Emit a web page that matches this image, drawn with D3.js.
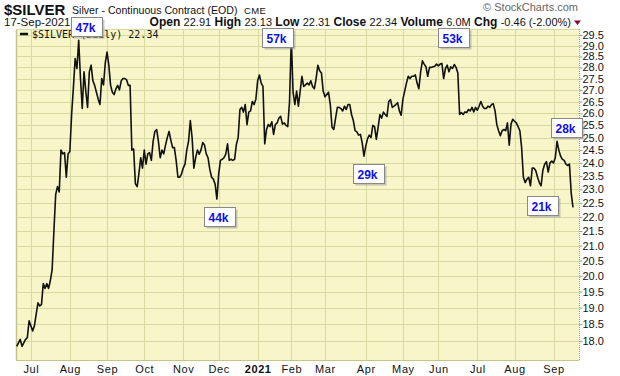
<!DOCTYPE html>
<html>
<head>
<meta charset="utf-8">
<script src="https://cdn.jsdelivr.net/npm/d3@7"></script>
<style>
  body { margin: 0; background: #fff; }
  svg text { font-family: "Liberation Sans", Arial, sans-serif; }
</style>
</head>
<body>
<div id="chart"></div>
<script>
// ---- data -------------------------------------------------------------
const firstDay = "2020-06-19";
const lastDay = "2021-09-17";
const holidays = ["2020-07-03", "2020-09-07", "2020-11-26", "2020-12-25", "2021-01-01",
    "2021-01-18", "2021-02-15", "2021-04-02", "2021-05-31", "2021-07-05", "2021-09-06"];

// daily closes (one per trading day)
const closes = [
    17.85, 17.95, 18.05, 17.85, 17.95, 18.05, 18.1, 18.6, 18.45, 18.3,
    18.45, 18.8, 19.15, 19.05, 19.1, 19.75, 19.6, 19.75, 19.6, 19.85,
    20.2, 21.5, 22.8, 23.1, 22.9, 24.5, 24.35, 24.4, 23.45, 24.35,
    24.45, 25.95, 27.1, 28.4, 27.95, 29.25, 27.5, 26.2, 27.8, 26.95,
    26.25, 27.8, 28.1, 27.4, 27.2, 26.9, 26.6, 26.37, 27.5, 27.22,
    28.2, 28.7, 28.1, 27.2, 26.9, 26.8, 27.05, 27.2, 27.0, 27.4,
    27.5, 27.5, 27.45, 27.2, 27.2, 24.5, 24.55, 23.2, 23.1, 23.6,
    24.2, 23.8, 24.5, 23.95, 24.35, 24.4, 24.1, 24.85, 25.25, 25.33,
    24.85, 24.2, 24.5, 24.35, 24.7, 25.0, 25.25, 24.9, 24.6, 24.6,
    24.1, 23.45, 23.45, 23.57, 23.8, 23.95, 24.5, 24.85, 25.7, 25.0,
    23.8, 24.2, 24.5, 24.34, 24.5, 24.8, 24.7, 24.35, 24.2, 23.75,
    23.45, 23.38, 23.19, 22.64, 23.57, 24.1, 24.14, 24.2, 24.34, 24.75,
    24.1, 24.14, 24.1, 24.14, 24.73, 25.0, 26.16, 26.25, 26.05, 26.37,
    25.53, 26.05, 26.1, 26.5, 26.37, 26.6, 27.4, 27.66, 27.3, 27.15,
    24.75, 25.33, 25.53, 25.45, 25.65, 25.13, 25.53, 25.6, 25.8, 25.87,
    25.55, 25.6, 25.5, 25.45, 26.5, 29.35, 26.9, 26.37, 26.95, 26.3,
    26.95, 27.6, 27.15, 27.22, 27.3, 27.22, 27.4, 27.15, 27.05, 27.5,
    28.1, 27.85, 27.75, 26.95, 26.7, 26.8, 26.9, 26.37, 25.42, 25.33,
    25.8, 26.25, 26.25, 26.2, 26.1, 26.3, 26.16, 26.37, 26.37, 25.95,
    25.7, 25.28, 25.23, 25.1, 25.13, 24.8, 24.26, 24.65, 24.95, 25.1,
    25.0, 25.5, 25.45, 24.93, 25.42, 25.95, 25.8, 26.05, 25.95, 25.87,
    26.5, 26.58, 26.25, 26.3, 26.37, 26.45, 26.1, 25.92, 26.6, 26.95,
    27.3, 27.6, 27.5, 27.6, 27.6, 27.66, 27.3, 27.05, 27.8, 28.3,
    28.15, 28.03, 27.6, 28.0, 28.0, 28.03, 28.05, 28.15, 28.07, 28.15,
    28.18, 27.5, 27.95, 28.1, 27.8, 28.03, 27.95, 28.13, 28.0, 27.75,
    25.95, 26.03, 25.95, 26.06, 26.03, 26.16, 26.1, 26.25, 26.06, 26.25,
    26.13, 26.3, 26.5, 26.3, 26.2, 26.2, 26.3, 26.25, 26.37, 26.4,
    26.1, 25.53, 25.28, 25.08, 25.28, 25.33, 25.28, 25.6, 24.7, 25.55,
    25.75, 25.67, 25.6, 25.45, 25.28, 24.6, 23.45, 23.25, 23.38, 23.45,
    23.13, 23.8, 23.8, 23.7, 23.45, 23.25, 23.13, 23.72, 23.95, 24.05,
    23.65, 24.0, 24.07, 24.0, 24.2, 24.85, 24.5, 24.26, 24.14, 24.1,
    23.95, 23.9, 23.95, 22.85, 22.34
];

const priceTicks = [18.0, 18.5, 19.0, 19.5, 20.0, 20.5, 21.0, 21.5, 22.0, 22.5, 23.0, 23.5,
    24.0, 24.5, 25.0, 25.5, 26.0, 26.5, 27.0, 27.5, 28.0, 28.5, 29.0, 29.5];
const monthNames = ["Jan", "Feb", "Mar", "Apr", "May", "Jun", "Jul", "Aug", "Sep", "Oct", "Nov", "Dec"];

// open interest notes pinned to a date
const noteDates = ["2020-08-10", "2021-02-01", "2021-06-03", "2020-11-30", "2021-03-31", "2021-09-03", "2021-08-13"];
const noteLabels = ["47k", "57k", "53k", "44k", "29k", "28k", "21k"];

const quote = [["Open", "22.91"], ["High", "23.13"], ["Low", "22.31"], ["Close", "22.34"], ["Volume", "6.0M"], ["Chg", "-0.46 (-2.00%)"]];

// ---- layout -----------------------------------------------------------
const W = 620, H = 376;
const plot = {left: 16, right: 579, top: 29, bottom: 360};
// where each note box sits relative to its point
const noteOffsets = [[-8, -23], [-29, -10], [-4, -35], [-13, 8], [-11, 8], [-6, -23], [-3, 10]];

// trading calendar
const fmt = d3.timeFormat("%Y-%m-%d");
const parse = d3.timeParse("%Y-%m-%d");
let days = d3.timeDay.range(parse(firstDay), d3.timeDay.offset(parse(lastDay), 1))
    .filter(d => d.getDay() !== 0 && d.getDay() !== 6 && !holidays.includes(fmt(d)));
days = days.slice(0, closes.length);

const data = closes.map((v, i) => ({i: i, date: days[i], v: v}));

const svg = d3.select("#chart").append("svg")
    .attr("width", W)
    .attr("height", H);

svg.append("rect").attr("width", W).attr("height", H).attr("fill", "#fff");

const x = d3.scaleLinear()
    .domain([0, closes.length - 1])
    .range([16.7, 573]);

const y = d3.scaleLog()
    .domain([17.46, 29.79])
    .range([plot.bottom, plot.top]);

// plot background
svg.append("rect")
    .attr("x", plot.left).attr("y", plot.top)
    .attr("width", plot.right - plot.left)
    .attr("height", plot.bottom - plot.top)
    .attr("fill", "#f8f6c8");

// month starts
const monthStarts = data.filter((d, k) => k > 0 && d.date.getMonth() !== data[k - 1].date.getMonth());

// grid
svg.append("g").selectAll("line.h")
    .data(priceTicks)
    .enter().append("line")
    .attr("x1", plot.left).attr("x2", plot.right)
    .attr("y1", d => Math.round(y(d)) + 0.5).attr("y2", d => Math.round(y(d)) + 0.5)
    .attr("stroke", "#d6d9a2");

svg.append("g").selectAll("line.v")
    .data(monthStarts)
    .enter().append("line")
    .attr("x1", d => Math.round(x(d.i)) + 0.5).attr("x2", d => Math.round(x(d.i)) + 0.5)
    .attr("y1", plot.top).attr("y2", plot.bottom)
    .attr("stroke", "#d6d9a2");

// frame
svg.append("line").attr("x1", plot.left + 0.5).attr("x2", plot.left + 0.5)
    .attr("y1", plot.top).attr("y2", plot.bottom).attr("stroke", "#c4c48a").attr("stroke-width", 1.5);
svg.append("line").attr("x1", plot.left).attr("x2", plot.right)
    .attr("y1", plot.bottom + 0.5).attr("y2", plot.bottom + 0.5).attr("stroke", "#c4c48a");
svg.append("line").attr("x1", plot.left).attr("x2", plot.right)
    .attr("y1", plot.top + 0.5).attr("y2", plot.top + 0.5).attr("stroke", "#d6d9a2");

// right axis
const yAxis = svg.append("g")
    .attr("transform", `translate(${plot.right + 0.5},0)`)
    .call(d3.axisRight(y).tickValues(priceTicks).tickFormat(d3.format(".1f")).tickSize(3).tickSizeOuter(0));
yAxis.select(".domain").attr("stroke", "#999").attr("stroke-dasharray", "1,1")
    .attr("d", `M0,${plot.top}V${plot.bottom}`);
yAxis.selectAll(".tick line").attr("stroke", "#999");
yAxis.selectAll(".tick text").attr("x", 3).attr("font-size", 11).attr("fill", "#111")
    .style("font-family", '"Liberation Sans", Arial, sans-serif');

// bottom axis
const xAxis = svg.append("g")
    .attr("transform", `translate(0,${plot.bottom})`)
    .call(d3.axisBottom(x)
        .tickValues(monthStarts.map(d => d.i))
        .tickSize(0)
        .tickFormat(i => {
            const dt = data[i].date;
            return dt.getMonth() === 0 ? String(dt.getFullYear()) : monthNames[dt.getMonth()];
        }));
xAxis.select(".domain").remove();
xAxis.selectAll(".tick text")
    .attr("y", 5)
    .attr("font-size", 11)
    .attr("fill", "#111")
    .style("letter-spacing", "0.6px")
    .style("font-family", '"Liberation Sans", Arial, sans-serif')
    .attr("font-weight", i => data[i].date.getMonth() === 0 ? "bold" : "normal");

// price line
const line = d3.line()
    .x(d => x(d.i))
    .y(d => y(d.v));

svg.append("path")
    .datum(data)
    .attr("d", line)
    .attr("fill", "none")
    .attr("stroke", "#111")
    .attr("stroke-width", 1.6)
    .attr("stroke-linejoin", "round");

// legend
svg.append("line").attr("x1", 20).attr("x2", 28).attr("y1", 34).attr("y2", 34)
    .attr("stroke", "#111").attr("stroke-width", 2.5);
svg.append("text").attr("x", 32).attr("y", 38)
    .style("font-family", '"DejaVu Sans Mono", monospace')
    .attr("font-size", 10).attr("fill", "#111")
    .text("$SILVER (Daily) " + d3.format(".2f")(closes[closes.length - 1]));

// header
svg.append("text").attr("x", 4).attr("y", 15)
    .attr("font-size", 15).attr("font-weight", "bold").attr("fill", "#111")
    .text("$SILVER");
svg.append("text").attr("x", 72).attr("y", 14)
    .attr("font-size", 10.6).attr("fill", "#111")
    .text("Silver - Continuous Contract (EOD)");
svg.append("text").attr("x", 244).attr("y", 14)
    .attr("font-size", 9.5).attr("fill", "#111")
    .style("letter-spacing", "0.4px")
    .text("CME");
svg.append("text").attr("x", 4).attr("y", 26)
    .attr("font-size", 11.5).attr("fill", "#111")
    .text(d3.timeFormat("%d-%b-%Y")(days[days.length - 1]));

svg.append("text").attr("x", 578).attr("y", 11)
    .attr("text-anchor", "end")
    .attr("font-size", 11).attr("fill", "#666")
    .text("\u00a9 StockCharts.com");

const qt = svg.append("text").attr("x", 571).attr("y", 26)
    .attr("text-anchor", "end").attr("font-size", 11).attr("fill", "#111");
quote.forEach((q, k) => {
    qt.append("tspan").attr("font-weight", "bold").attr("font-size", 12)
        .text((k ? "  " : "") + q[0] + " ");
    qt.append("tspan").text(q[1]);
});
svg.append("path").attr("d", "M574,20.5L581,20.5L577.5,25Z").attr("fill", "#8b0a2a");

// notes
noteDates.forEach((nd, k) => {
    const d = data.find(p => fmt(p.date) === nd);
    const bx = Math.round(x(d.i) + noteOffsets[k][0]) + 0.5;
    const by = Math.round(y(d.v) + noteOffsets[k][1]) + 0.5;
    const g = svg.append("g");
    g.append("rect").attr("x", bx + 2).attr("y", by + 2).attr("width", 31).attr("height", 19)
        .attr("fill", "#9a9a9a").attr("opacity", 0.55);
    g.append("rect").attr("x", bx).attr("y", by).attr("width", 31).attr("height", 19)
        .attr("fill", "#fff").attr("stroke", "#888");
    g.append("text").attr("x", bx + 4).attr("y", by + 14)
        .attr("font-size", 12).attr("font-weight", "bold").attr("fill", "#1010e0")
        .text(noteLabels[k]);
});
</script>
</body>
</html>
